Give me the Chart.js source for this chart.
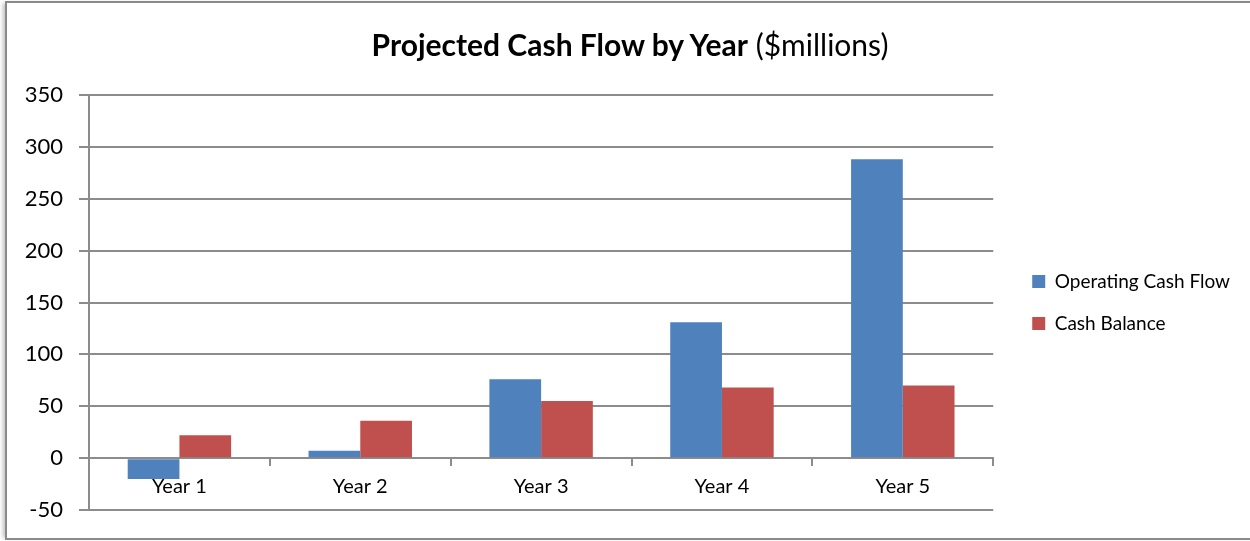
<!DOCTYPE html>
<html>
<head>
<meta charset="utf-8">
<script src="https://cdn.jsdelivr.net/npm/chart.js@4.4.1/dist/chart.umd.min.js"></script>
<style>
  body { margin: 0; background: #fff; }
  #wrap { position: relative; width: 1250px; height: 541px; overflow: hidden; }
  #frame {
    position: absolute; left: 5px; top: 1px; width: 1260px; height: 535px;
    border-top: 2px solid #8a8a8a; border-left: 2px solid #8a8a8a; border-bottom: 2px solid #8a8a8a;
    box-shadow: -4px 0 4px -2px rgba(0,0,0,0.25);
    pointer-events: none;
  }
  #title {
    position: absolute; left: 0; top: 26px; width: 1260px; text-align: center;
    font-family: Lato, "Open Sans", sans-serif; font-size: 30px; line-height: 36px; color: #000;
  }
  #title b { font-weight: bold; }
</style>
</head>
<body>
<div id="wrap">
  <canvas id="myChart"></canvas>
  <div id="title"><b>Projected Cash Flow by Year</b> ($millions)</div>
  <div id="frame"></div>
</div>
<script>
const years = ["Year 1", "Year 2", "Year 3", "Year 4", "Year 5"];
const operatingCashFlow = [-20, 7, 76, 131, 288];
const cashBalance = [22, 36, 55, 68, 70];
const yTicks = [-50, 0, 50, 100, 150, 200, 250, 300, 350];

const fontFamily = "Lato, 'Open Sans', sans-serif";
const gridGray = "#8c8c8c";

const canvas = document.getElementById("myChart");

// push the legend a bit to the right, leaving a gap after the plot
const legendGap = 16;
const legendShift = {
  id: "legendShift",
  afterLayout(chart) {
    chart.legend.left += legendGap;
    chart.legend.right += legendGap;
  },
};

const data = {
  labels: years,
  datasets: [
    {
      label: "Operating Cash Flow",
      backgroundColor: "#4f81bd",
      data: operatingCashFlow,
    },
    {
      label: "Cash Balance",
      backgroundColor: "#c0504d",
      data: cashBalance,
    },
  ],
};

const config = {
  type: "bar",
  data: data,
  plugins: [legendShift],
  options: {
    responsive: true,
    maintainAspectRatio: false,
    animation: false,
    barPercentage: 1,
    categoryPercentage: 0.572,
    layout: {
      padding: { top: 95, bottom: 31, left: 0, right: 26 },
    },
    plugins: {
      legend: {
        position: "right",
        labels: {
          boxWidth: 13,
          boxHeight: 13,
          padding: 23,
          color: "#000",
          font: { family: fontFamily, size: 19 },
        },
      },
      tooltip: { enabled: false },
    },
    scales: {
      x: {
        position: { y: 0 },
        grid: {
          offset: true,
          drawOnChartArea: false,
          tickLength: 7,
          color: gridGray,
          lineWidth: 2,
        },
        border: { color: gridGray, width: 2 },
        ticks: {
          color: "#000",
          padding: 9,
          font: { family: fontFamily, size: 20 },
        },
      },
      y: {
        min: yTicks[0],
        max: yTicks[yTicks.length - 1],
        afterBuildTicks: (scale) => {
          scale.ticks = yTicks.map((v) => ({ value: v }));
        },
        afterFit: (scale) => {
          scale.width = 89;
        },
        grid: {
          color: gridGray,
          lineWidth: 2,
          tickLength: 10,
        },
        border: { color: gridGray, width: 2 },
        ticks: {
          color: "#000",
          padding: 16,
          font: { family: fontFamily, size: 22 },
        },
      },
    },
  },
};

var myChart = new Chart(canvas, config);
</script>
</body>
</html>
